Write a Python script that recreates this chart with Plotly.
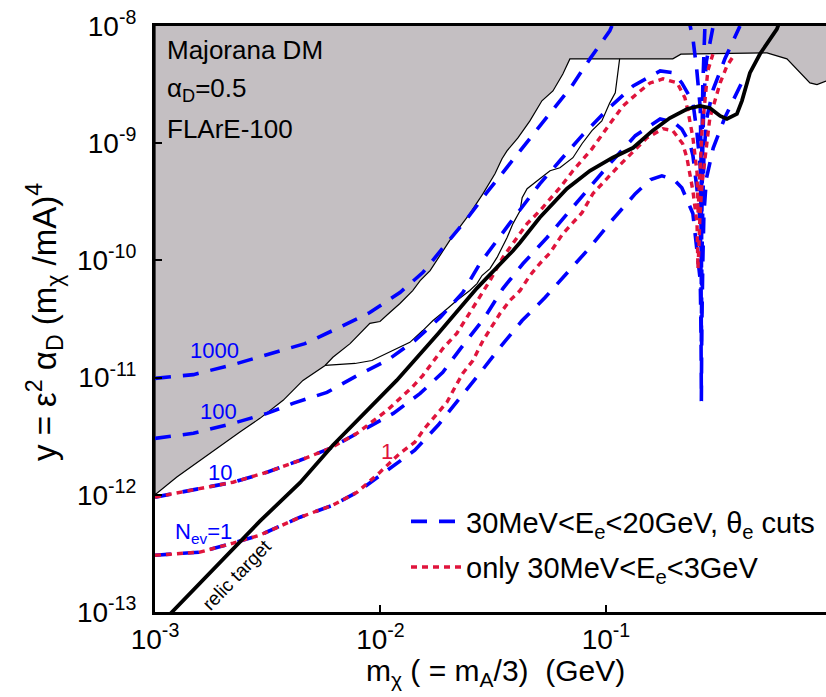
import plotly.graph_objects as go

# ---------------- data ----------------
# excluded (gray) region lower boundary
gray_x = [1.0e-3, 1.25e-3, 1.58e-3, 2.38e-3, 2.92e-3, 3.70e-3, 4.53e-3, 5.68e-3, 6.15e-3, 7.33e-3,
          8.97e-3, 9.95e-3, 1.10e-2, 1.22e-2, 1.39e-2, 1.50e-2, 1.66e-2, 2.03e-2, 2.49e-2, 2.85e-2,
          3.22e-2, 3.46e-2, 3.64e-2, 4.07e-2, 4.60e-2, 5.20e-2, 5.82e-2, 6.44e-2, 6.92e-2, 0.198,
          0.215, 0.518, 0.635, 0.725, 0.803, 0.863, 0.946, 1.0]
gray_y = [1.0e-12, 1.42e-12, 1.97e-12, 3.44e-12, 4.49e-12, 6.40e-12, 9.46e-12, 1.27e-11, 1.49e-11, 1.95e-11,
          2.90e-11, 3.01e-11, 3.59e-11, 4.29e-11, 5.53e-11, 6.73e-11, 8.18e-11, 1.48e-10, 2.51e-10, 3.71e-10,
          5.48e-10, 7.36e-10, 8.61e-10, 1.11e-9, 1.55e-9, 2.30e-9, 2.79e-9, 3.90e-9, 5.24e-9, 5.24e-9,
          5.75e-9, 5.90e-9, 5.24e-9, 3.98e-9, 3.27e-9, 3.16e-9, 3.39e-9, 3.60e-9]

# second (unfilled) constraint outline
line2_x = [5.68e-3, 7.71e-3, 9.16e-3, 1.14e-2, 1.35e-2, 1.54e-2, 1.71e-2, 1.89e-2, 2.18e-2, 2.49e-2,
           2.68e-2, 2.82e-2, 3.06e-2, 3.29e-2, 3.46e-2, 3.64e-2, 3.87e-2, 4.16e-2, 4.25e-2, 4.47e-2,
           5.09e-2, 5.65e-2, 6.25e-2, 7.14e-2, 7.83e-2, 8.67e-2, 9.59e-2, 0.104, 0.110, 0.113, 0.115]
line2_y = [1.27e-11, 1.32e-11, 1.40e-11, 1.71e-11, 2.0e-11, 2.52e-11, 3.07e-11, 3.59e-11, 4.55e-11, 5.53e-11,
           6.34e-11, 7.43e-11, 8.51e-11, 1.06e-10, 1.29e-10, 1.56e-10, 2.06e-10, 2.65e-10, 3.43e-10, 4.09e-10,
           4.98e-10, 5.82e-10, 6.17e-10, 7.52e-10, 9.89e-10, 1.28e-9, 1.55e-9, 2.21e-9, 2.69e-9, 3.90e-9, 5.24e-9]

# relic target
relic_x = [1.10e-3, 1.19e-3, 2.92e-3, 4.40e-3, 6.15e-3, 1.18e-2, 1.80e-2, 2.68e-2, 3.87e-2, 4.16e-2,
           5.09e-2, 6.71e-2, 8.49e-2, 0.107, 0.132, 0.161, 0.192, 0.229, 0.261, 0.289,
           0.321, 0.344, 0.381, 0.401, 0.435, 0.482, 0.573, 0.600]
relic_y = [8.5e-14, 1.0e-13, 5.96e-13, 1.27e-12, 2.65e-12, 9.46e-12, 2.37e-11, 5.8e-11, 1.21e-10, 1.42e-10,
           2.32e-10, 4.09e-10, 5.82e-10, 7.52e-10, 9.14e-10, 1.28e-9, 1.64e-9, 1.96e-9, 2.08e-9, 2.0e-9,
           1.71e-9, 1.61e-9, 1.78e-9, 2.30e-9, 3.98e-9, 5.77e-9, 9.4e-9, 1.2e-8]

# blue: 30MeV<Ee<20GeV, theta_e cuts ; N_ev = 1, 10, 100, 1000
blue1_x = [1.0e-3, 1.58e-3, 2.22e-3, 2.92e-3, 4.40e-3, 6.15e-3, 7.87e-3, 1.03e-2, 1.42e-2, 1.80e-2,
           2.25e-2, 2.76e-2, 3.39e-2, 4.25e-2, 5.37e-2, 8.49e-2, 0.106, 0.135, 0.158, 0.177,
           0.200, 0.217, 0.243, 0.253, 0.262, 0.264, 0.265, 0.266, 0.269, 0.272,
           0.279, 0.299, 0.337, 0.393, 0.415]
blue1_y = [3.05e-13, 3.24e-13, 3.87e-13, 4.53e-13, 6.44e-13, 8.15e-13, 1.05e-12, 1.53e-12, 2.40e-12, 3.92e-12,
           6.65e-12, 1.09e-11, 1.81e-11, 3.07e-11, 4.82e-11, 1.29e-10, 2.18e-10, 3.71e-10, 4.90e-10, 5.27e-10,
           4.90e-10, 4.17e-10, 2.51e-10, 1.32e-10, 6.76e-11, 2.51e-11, 6.3e-12, 2.51e-11, 1.0e-10, 2.51e-10,
           5.0e-10, 9.1e-10, 1.66e-9, 3.09e-9, 3.8e-9]

blue10_x = [1.0e-3, 1.58e-3, 2.22e-3, 3.14e-3, 4.40e-3, 5.97e-3, 7.87e-3, 1.03e-2, 1.14e-2, 1.50e-2,
            1.89e-2, 2.32e-2, 2.90e-2, 3.49e-2, 4.29e-2, 5.47e-2, 6.79e-2, 8.49e-2, 0.104, 0.135,
            0.174, 0.200, 0.217, 0.236, 0.243, 0.253, 0.262, 0.264, 0.265, 0.266,
            0.269, 0.272, 0.279, 0.299, 0.337, 0.393]
blue10_y = [9.55e-13, 1.14e-12, 1.28e-12, 1.56e-12, 1.97e-12, 2.49e-12, 3.35e-12, 4.49e-12, 4.95e-12, 7.33e-12,
            1.11e-11, 1.88e-11, 3.26e-11, 5.75e-11, 9.4e-11, 1.56e-10, 2.55e-10, 4.17e-10, 6.68e-10, 1.16e-9,
            1.61e-9, 1.51e-9, 1.32e-9, 9.9e-10, 7.9e-10, 4.17e-10, 2.14e-10, 7.9e-11, 2.0e-11, 7.9e-11,
            3.16e-10, 7.9e-10, 1.58e-9, 2.88e-9, 5.25e-9, 1.0e-8]

blue100_x = [1.0e-3, 1.48e-3, 2.22e-3, 3.14e-3, 4.09e-3, 5.79e-3, 7.87e-3, 1.07e-2, 1.42e-2, 1.84e-2,
             2.32e-2, 2.76e-2, 3.72e-2, 5.09e-2, 6.25e-2, 7.83e-2, 0.102, 0.132, 0.174, 0.200,
             0.217, 0.236, 0.243, 0.253, 0.262, 0.264, 0.265, 0.266, 0.269, 0.272,
             0.279, 0.299]
blue100_y = [3.03e-12, 3.35e-12, 4.07e-12, 4.95e-12, 6.03e-12, 7.48e-12, 1.04e-11, 1.40e-11, 2.07e-11, 3.26e-11,
             5.32e-11, 9.4e-11, 2.04e-10, 4.5e-10, 7.08e-10, 1.16e-9, 1.96e-9, 3.08e-9, 4.14e-9, 3.98e-9,
             3.27e-9, 2.51e-9, 2.24e-9, 1.26e-9, 6.3e-10, 2.51e-10, 6.3e-11, 2.51e-10, 1.0e-9, 2.51e-9,
             5.0e-9, 1.0e-8]

blue1000_x = [1.0e-3, 1.48e-3, 2.22e-3, 3.14e-3, 4.62e-3, 6.41e-3, 8.97e-3, 1.22e-2, 1.54e-2, 1.93e-2,
              2.42e-2, 2.96e-2, 3.67e-2, 4.60e-2, 5.53e-2, 7.06e-2, 8.49e-2, 0.104, 0.112, None,
              0.230, 0.243, 0.253, 0.262, 0.264, 0.265, 0.266, 0.269, 0.272, 0.276]
blue1000_y = [9.85e-12, 1.06e-11, 1.29e-11, 1.57e-11, 1.95e-11, 2.62e-11, 3.59e-11, 5.32e-11, 7.87e-11, 1.34e-10,
              2.27e-10, 3.78e-10, 6.41e-10, 1.09e-9, 1.71e-9, 3.08e-9, 5.24e-9, 9.1e-9, 1.26e-8, None,
              1.26e-8, 7.9e-9, 4.17e-9, 2.0e-9, 7.9e-10, 2.0e-10, 7.9e-10, 3.16e-9, 7.9e-9, 1.26e-8]

# red: only 30MeV<Ee<3GeV ; N_ev = 1, 10
red1_x = [1.0e-3, 1.58e-3, 2.22e-3, 2.92e-3, 4.40e-3, 6.15e-3, 7.87e-3, 9.95e-3, 1.22e-2, 1.42e-2,
          1.57e-2, 1.75e-2, 1.97e-2, 2.14e-2, 2.32e-2, 2.57e-2, 2.85e-2, 3.39e-2, 3.75e-2, 4.16e-2,
          4.60e-2, 5.09e-2, 5.65e-2, 6.44e-2, 7.83e-2, 8.75e-2, 0.101, 0.112, 0.152, 0.179,
          0.198, 0.219, 0.2286, 0.236, 0.243, 0.2535, 0.2547, 0.2559, 0.258, 0.261,
          0.2667, 0.278, 0.289, 0.321, 0.344, 0.373]
red1_y = [3.05e-13, 3.24e-13, 3.87e-13, 4.53e-13, 6.44e-13, 8.15e-13, 1.05e-12, 1.56e-12, 2.26e-12, 2.81e-12,
          3.69e-12, 4.76e-12, 6.15e-12, 8.26e-12, 1.09e-11, 1.40e-11, 2.07e-11, 3.52e-11, 4.55e-11, 5.53e-11,
          7.43e-11, 9.4e-11, 1.16e-10, 1.69e-10, 2.55e-10, 3.71e-10, 4.98e-10, 6.17e-10, 1.11e-9, 1.33e-9,
          1.28e-9, 9.89e-10, 7.52e-10, 5.50e-10, 3.94e-10, 2.06e-10, 1.2e-10, 8.5e-11, 1.21e-10, 2.32e-10,
          4.51e-10, 8.61e-10, 1.64e-9, 3.27e-9, 4.56e-9, 5.77e-9]

red10_x = [1.0e-3, 1.58e-3, 2.22e-3, 3.14e-3, 4.40e-3, 5.97e-3, 7.87e-3, 1.07e-2, 1.22e-2, 1.38e-2,
           1.54e-2, 1.89e-2, 2.18e-2, 2.57e-2, 3.06e-2, 3.49e-2, 4.47e-2, 5.09e-2, 6.25e-2, 7.14e-2,
           8.67e-2, 0.104, 0.119, 0.137, 0.157, 0.179, 0.207, 0.224, 0.231, 0.243,
           0.2535, 0.2559, 0.258, 0.261, 0.2667, 0.283, 0.298]
red10_y = [9.55e-13, 1.14e-12, 1.28e-12, 1.56e-12, 1.97e-12, 2.49e-12, 3.35e-12, 5.26e-12, 6.65e-12, 8.26e-12,
           1.04e-11, 1.77e-11, 2.38e-11, 3.96e-11, 6.73e-11, 1.06e-10, 2.06e-10, 2.65e-10, 4.17e-10, 5.82e-10,
           8.95e-10, 1.46e-9, 2.08e-9, 2.64e-9, 3.27e-9, 3.54e-9, 3.27e-9, 2.44e-9, 1.89e-9, 1.12e-9,
           5.62e-10, 2.51e-10, 3.55e-10, 6.31e-10, 1.26e-9, 4.14e-9, 5.75e-9]

x_tickvals = [1e-3, 1e-2, 1e-1]
x_ticktext = ["10<sup>-3</sup>", "10<sup>-2</sup>", "10<sup>-1</sup>"]
y_tickvals = [1e-13, 1e-12, 1e-11, 1e-10, 1e-9, 1e-8]
y_ticktext = ["10<sup>-13</sup>", "10<sup>-12</sup>", "10<sup>-11</sup>",
              "10<sup>-10</sup>", "10<sup>-9</sup>", "10<sup>-8</sup>"]

legend_blue = "30MeV&lt;E<sub>e</sub>&lt;20GeV, θ<sub>e</sub> cuts"
legend_red = "only 30MeV&lt;E<sub>e</sub>&lt;3GeV"
x_title = "m<sub>χ</sub> ( = m<sub>A</sub>/3)  (GeV)"
y_title = "y = ε<sup>2</sup> α<sub>D</sub> (m<sub>χ</sub> /mA)<sup>4</sup>"

# ---------------- figure ----------------
FONT = "Liberation Sans, Arial, sans-serif"
BLUE = "#0000ff"
RED = "#e0143c"
GRAY = "#c4bfc2"
BLUE_DASH = "16px,12px"
RED_DASH = "6px,5px"

W, H = 826, 697
ML, MR, MT, MB = 155, 0, 26, 85
PW, PH = W - ML - MR, H - MT - MB


def px(xp):
    return (xp - ML) / PW


def py(yp):
    return (H - MB - yp) / PH


fig = go.Figure()

# gray excluded region (polygon closed along the top of the plot)
poly_x = [gray_x[0]] + gray_x + [gray_x[-1], gray_x[0]]
poly_y = [2e-8] + gray_y + [2e-8, 2e-8]
fig.add_trace(go.Scatter(x=poly_x, y=poly_y, mode="lines", fill="toself", fillcolor=GRAY,
                         line=dict(color="black", width=1.2), showlegend=False, hoverinfo="skip"))
fig.add_trace(go.Scatter(x=line2_x, y=line2_y, mode="lines",
                         line=dict(color="black", width=1.2), showlegend=False, hoverinfo="skip"))

blue_sets = [(blue1000_x, blue1000_y), (blue100_x, blue100_y), (blue10_x, blue10_y), (blue1_x, blue1_y)]
for i, (bx, by) in enumerate(blue_sets):
    fig.add_trace(go.Scatter(x=bx, y=by, mode="lines", connectgaps=False,
                             line=dict(color=BLUE, width=3.6, dash=BLUE_DASH),
                             name=legend_blue, legendgroup="b", showlegend=(i == 3)))
red_sets = [(red10_x, red10_y), (red1_x, red1_y)]
for i, (rx, ry) in enumerate(red_sets):
    fig.add_trace(go.Scatter(x=rx, y=ry, mode="lines",
                             line=dict(color=RED, width=3.4, dash=RED_DASH),
                             name=legend_red, legendgroup="r", showlegend=(i == 1)))

fig.add_trace(go.Scatter(x=relic_x, y=relic_y, mode="lines", line=dict(color="black", width=3.8),
                         showlegend=False, hoverinfo="skip"))

ann = []


def add_text(text, xp, yp, size, color="black", xanchor="center", angle=0):
    ann.append(dict(text=text, x=px(xp), y=py(yp), xref="paper", yref="paper", showarrow=False,
                    xanchor=xanchor, yanchor="middle", textangle=angle,
                    font=dict(family=FONT, size=size, color=color)))


add_text("Majorana DM", 165, 50, 26, xanchor="left")
add_text("α<sub>D</sub>=0.5", 165, 90, 26, xanchor="left")
add_text("FLArE-100", 165, 129, 26, xanchor="left")
add_text("1000", 214, 351, 22, BLUE)
add_text("100", 218, 411, 22, BLUE)
add_text("10", 220, 472, 22, BLUE)
add_text("N<sub>ev</sub>=1", 203, 533, 22, BLUE)
add_text("1", 387, 452, 22, RED)
add_text("relic target", 236, 575, 19, "black", angle=-46)
add_text(x_title, 495, 673, 30)
add_text(y_title, 44, 322, 33, angle=-90)

fig.update_layout(
    width=W, height=H,
    margin=dict(l=ML, r=MR, t=MT, b=MB),
    paper_bgcolor="white", plot_bgcolor="white",
    font=dict(family=FONT, size=24, color="black"),
    annotations=ann,
    showlegend=True,
    legend=dict(x=px(406), y=py(496), xanchor="left", yanchor="top",
                bgcolor="rgba(0,0,0,0)", font=dict(family=FONT, size=29),
                tracegroupgap=5, itemwidth=50, traceorder="grouped"),
    xaxis=dict(type="log", range=[-3, -0.024], tickvals=x_tickvals, ticktext=x_ticktext,
               ticks="inside", ticklen=7, tickwidth=1.5, tickcolor="black",
               showline=True, linecolor="black", linewidth=3, mirror=True,
               showgrid=False, zeroline=False, tickfont=dict(size=28)),
    yaxis=dict(type="log", range=[-13, -8], tickvals=y_tickvals, ticktext=y_ticktext,
               ticks="inside", ticklen=7, tickwidth=1.5, tickcolor="black",
               showline=True, linecolor="black", linewidth=3, mirror=False,
               showgrid=False, zeroline=False, tickfont=dict(size=28), ticklabelstandoff=10),
)

fig.write_html("out.html", config={"displayModeBar": False},
               post_script="document.body.style.margin='0';document.body.style.overflow='hidden';")
